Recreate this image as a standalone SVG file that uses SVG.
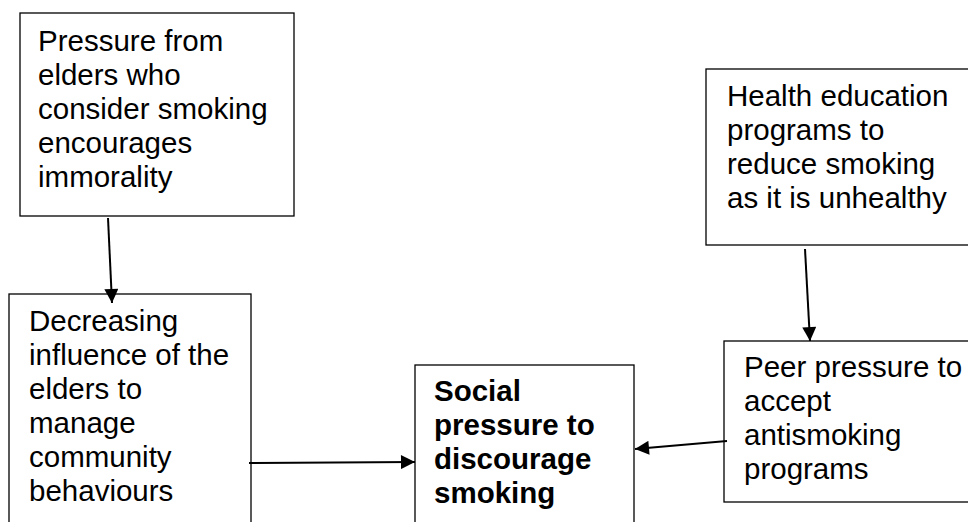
<svg xmlns="http://www.w3.org/2000/svg" width="968" height="522" viewBox="0 0 968 522">
  <style>
    .box { fill: #ffffff; stroke: #000000; stroke-width: 1.3; }
    .lbl { font-family: "Liberation Sans", Arial, sans-serif; font-size: 29.5px; fill: #000000; }
    .bold { font-weight: bold; }
    .edge { stroke: #000000; stroke-width: 2; fill: none; marker-end: url(#arrow); }
  </style>
  <defs>
    <marker id="arrow" viewBox="0 0 10 10" refX="10" refY="5" markerWidth="7.5" markerHeight="7" markerUnits="strokeWidth" orient="auto">
      <path d="M0,0 L10,5 L0,10 z" fill="#000000"/>
    </marker>
  </defs>
  <rect width="968" height="522" fill="#ffffff"/>

  <g id="elders-pressure">
    <rect class="box" x="20" y="13" width="274" height="203"/>
    <text class="lbl">
      <tspan x="38" y="51">Pressure from</tspan>
      <tspan x="38" y="85">elders who</tspan>
      <tspan x="38" y="119">consider smoking</tspan>
      <tspan x="38" y="153">encourages</tspan>
      <tspan x="38" y="187">immorality</tspan>
    </text>
  </g>

  <g id="decreasing-influence">
    <rect class="box" x="9" y="294" width="242" height="240"/>
    <text class="lbl">
      <tspan x="29" y="331">Decreasing</tspan>
      <tspan x="29" y="365">influence of the</tspan>
      <tspan x="29" y="399">elders to</tspan>
      <tspan x="29" y="433">manage</tspan>
      <tspan x="29" y="467">community</tspan>
      <tspan x="29" y="501">behaviours</tspan>
    </text>
  </g>

  <g id="social-pressure">
    <rect class="box" x="415" y="365" width="219" height="170"/>
    <text class="lbl bold">
      <tspan x="434" y="401">Social</tspan>
      <tspan x="434" y="435">pressure to</tspan>
      <tspan x="434" y="469">discourage</tspan>
      <tspan x="434" y="503">smoking</tspan>
    </text>
  </g>

  <g id="health-education">
    <rect class="box" x="706" y="69" width="275" height="176"/>
    <text class="lbl">
      <tspan x="727" y="106">Health education</tspan>
      <tspan x="727" y="140">programs to</tspan>
      <tspan x="727" y="174">reduce smoking</tspan>
      <tspan x="727" y="208">as it is unhealthy</tspan>
    </text>
  </g>

  <g id="peer-pressure">
    <rect class="box" x="724" y="341" width="257" height="161"/>
    <text class="lbl">
      <tspan x="744" y="377">Peer pressure to</tspan>
      <tspan x="744" y="411">accept</tspan>
      <tspan x="744" y="445">antismoking</tspan>
      <tspan x="744" y="479">programs</tspan>
    </text>
  </g>

  <g id="connectors">
    <line class="edge" x1="108" y1="218" x2="112" y2="303"/>
    <line class="edge" x1="249" y1="463" x2="415" y2="462"/>
    <line class="edge" x1="805" y1="249" x2="810" y2="341"/>
    <line class="edge" x1="727" y1="441" x2="635" y2="449"/>
  </g>
</svg>
